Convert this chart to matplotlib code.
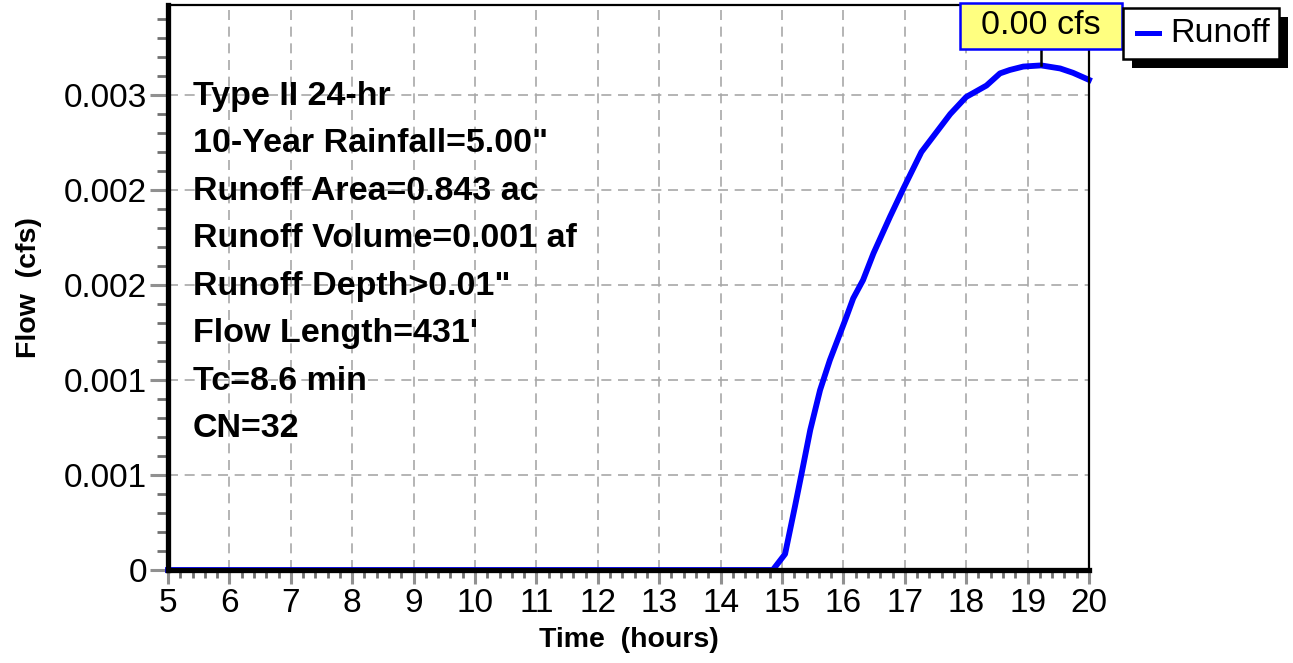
import matplotlib
matplotlib.use("Agg")
import matplotlib.pyplot as plt
from matplotlib.patches import Rectangle
from matplotlib.ticker import FixedLocator, MultipleLocator
import numpy as np

plt.rcParams['font.family'] = ['Liberation Sans', 'DejaVu Sans']

# ---- data ----
hours = [5.0, 14.85, 15.05, 15.21, 15.32, 15.46, 15.62, 15.78, 16.05, 16.16,
         16.32, 16.49, 16.76, 16.98, 17.27, 17.74, 18.0, 18.33, 18.55, 18.71,
         18.93, 19.22, 19.53, 19.74, 20.0]
runoff_cfs = [0.0, 0.0, 0.000084, 0.000333, 0.000509, 0.000737, 0.000947, 0.001105,
              0.001333, 0.00143, 0.001526, 0.001667, 0.00186, 0.00201, 0.0022,
              0.0024, 0.00249, 0.00255, 0.002614, 0.002632, 0.00265, 0.002656,
              0.00264, 0.002617, 0.00258]
y_ticks = [0.0, 0.0005, 0.001, 0.0015, 0.002, 0.0025]
y_tick_labels = ["0", "0.001", "0.001", "0.002", "0.002", "0.003"]
x_ticks = list(range(5, 21))
info_lines = ["Type II 24-hr", "10-Year Rainfall=5.00\"", "Runoff Area=0.843 ac",
              "Runoff Volume=0.001 af", "Runoff Depth>0.01\"", "Flow Length=431'",
              "Tc=8.6 min", "CN=32"]
peak_label = "0.00 cfs"
series_name = "Runoff"

W, H = 1293, 663
fig = plt.figure(figsize=(W / 100, H / 100), dpi=100)
ax_l, ax_r, ax_t, ax_b = 168, 1089, 5, 570
ax = fig.add_axes([ax_l / W, 1 - ax_b / H, (ax_r - ax_l) / W, (ax_b - ax_t) / H])

ax.plot(hours, runoff_cfs, color='#0000FF', lw=4.2, solid_joinstyle='round', zorder=3, clip_on=False)

ax.set_xlim(5, 20)
ax.set_ylim(0, 0.002974)
ax.xaxis.set_major_locator(FixedLocator(x_ticks))
ax.xaxis.set_minor_locator(MultipleLocator(0.2))
ax.yaxis.set_major_locator(FixedLocator(y_ticks))
ax.set_yticklabels(y_tick_labels)
ax.yaxis.set_minor_locator(MultipleLocator(0.0001))

ax.grid(True, which='major', color='#A8A8A8', linestyle=(0, (6, 4)), lw=1.2, zorder=0)
ax.tick_params(axis='both', which='major', direction='out', color='#909090', width=2.2,
               labelsize=24, pad=3)
ax.tick_params(axis='x', which='major', length=10, pad=3)
ax.tick_params(axis='y', which='major', length=13, pad=2)
ax.tick_params(axis='both', which='minor', direction='out', color='#707070', width=2.0)
ax.tick_params(axis='x', which='minor', length=6)
ax.tick_params(axis='y', which='minor', length=8)

for s in ['left', 'bottom']:
    ax.spines[s].set_linewidth(3.8)
for s in ['top', 'right']:
    ax.spines[s].set_linewidth(1.6)
for s in ax.spines.values():
    s.set_color('black')
    s.set_zorder(4)

ax.set_xlabel("Time  (hours)", fontsize=20.5, fontweight='bold', labelpad=6)
ax.set_ylabel("Flow  (cfs)", fontsize=20.5, fontweight='bold', labelpad=16)

# info text block
for i, line in enumerate(info_lines):
    ypx = 96 + i * 47.5
    ax.text((193 - ax_l) / (ax_r - ax_l), (ax_b - ypx) / (ax_b - ax_t), line,
            transform=ax.transAxes, fontsize=24.5, fontweight='bold', va='center', ha='left',
            zorder=5)

# peak label box
ipk = int(np.argmax(runoff_cfs))
pk_x, pk_y = hours[ipk], runoff_cfs[ipk]
pk_disp = ax.transData.transform((pk_x, pk_y))
box_cx_px = pk_disp[0]
box_bottom_px = 49
box_top_px = 3
box_w_px = 162
fig.add_artist(plt.Line2D([box_cx_px / W, box_cx_px / W], [1 - box_bottom_px / H, pk_disp[1] / H],
                          color='black', lw=1.8, transform=fig.transFigure, zorder=6))
fig.add_artist(Rectangle(((box_cx_px - box_w_px / 2) / W, 1 - box_bottom_px / H),
                         box_w_px / W, (box_bottom_px - box_top_px) / H,
                         transform=fig.transFigure, facecolor='#FFFF80', edgecolor='#0000FF',
                         lw=1.8, zorder=7))
fig.text(box_cx_px / W, 1 - (box_top_px + box_bottom_px) / 2 / H, peak_label,
         fontsize=24.5, ha='center', va='center', zorder=8)

# legend box with shadow
lg_l, lg_r, lg_t, lg_b = 1123, 1279, 8, 59
sh = 9
fig.add_artist(Rectangle(((lg_l + sh) / W, 1 - (lg_b + sh) / H), (lg_r - lg_l) / W, (lg_b - lg_t) / H,
                         transform=fig.transFigure, facecolor='black', edgecolor='black', lw=0, zorder=6))
fig.add_artist(Rectangle((lg_l / W, 1 - lg_b / H), (lg_r - lg_l) / W, (lg_b - lg_t) / H,
                         transform=fig.transFigure, facecolor='white', edgecolor='black', lw=1.8, zorder=7))
fig.add_artist(plt.Line2D([1137 / W, 1159 / W], [1 - 33 / H, 1 - 33 / H], color='#0000FF', lw=3.6,
                          transform=fig.transFigure, zorder=8))
fig.text(1170 / W, 1 - 33 / H, series_name, fontsize=24.5, ha='left', va='center', zorder=8)

fig.savefig("out.png", dpi=100)
